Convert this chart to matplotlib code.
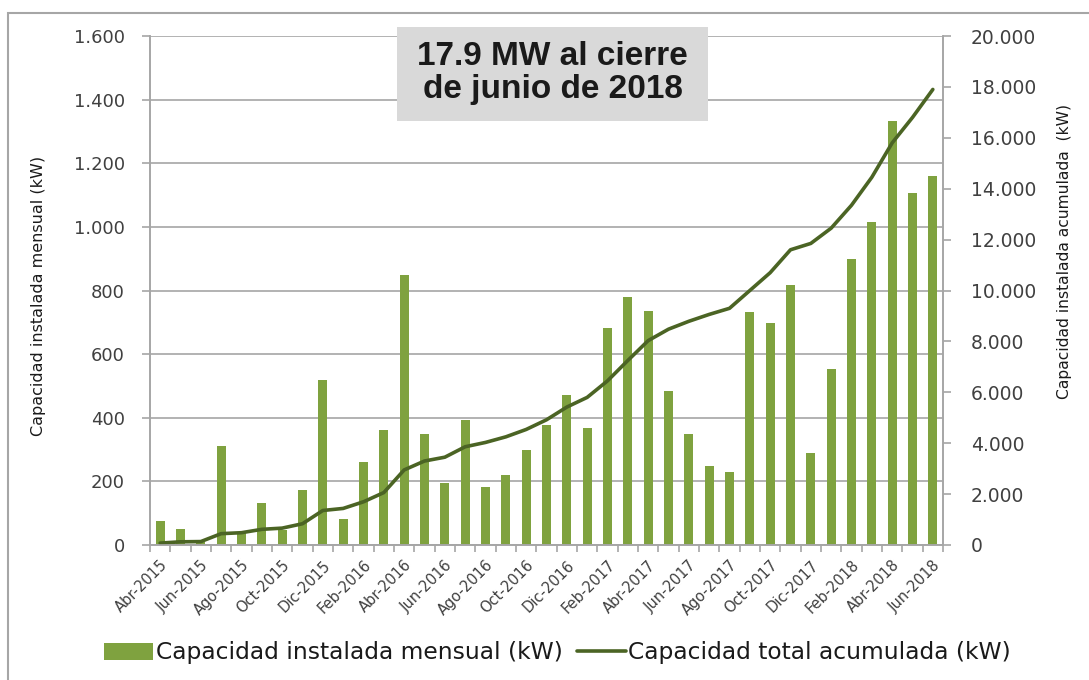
import numpy as np
import matplotlib
matplotlib.use('Agg')
import matplotlib.pyplot as plt
from matplotlib.patches import Rectangle
from matplotlib.ticker import FuncFormatter

# ============================================================
# Data
# ============================================================
meses = ['Abr-2015', 'May-2015', 'Jun-2015', 'Jul-2015', 'Ago-2015', 'Sep-2015',
         'Oct-2015', 'Nov-2015', 'Dic-2015', 'Ene-2016', 'Feb-2016', 'Mar-2016',
         'Abr-2016', 'May-2016', 'Jun-2016', 'Jul-2016', 'Ago-2016', 'Sep-2016',
         'Oct-2016', 'Nov-2016', 'Dic-2016', 'Ene-2017', 'Feb-2017', 'Mar-2017',
         'Abr-2017', 'May-2017', 'Jun-2017', 'Jul-2017', 'Ago-2017', 'Sep-2017',
         'Oct-2017', 'Nov-2017', 'Dic-2017', 'Ene-2018', 'Feb-2018', 'Mar-2018',
         'Abr-2018', 'May-2018', 'Jun-2018']

mensual = [75, 50, 10, 311, 37, 133, 47, 173, 520, 81, 261, 363,
           848, 348, 194, 393, 183, 219, 298, 377, 473, 367, 683, 779,
           735, 484, 348, 249, 230, 731, 698, 818, 288, 552, 899, 1015,
           1332, 1106, 1159]

acumulada = [75, 125, 135, 446, 483, 616, 663, 836, 1356, 1437, 1698, 2061,
             2950, 3300, 3450, 3860, 4030, 4250, 4540, 4920, 5420, 5800, 6450, 7250,
             8030, 8480, 8790, 9060, 9300, 10000, 10700, 11600, 11850, 12450, 13350, 14450,
             15800, 16800, 17900]

titulo = '17.9 MW al cierre\nde junio de 2018'

BAR_COLOR  = '#7FA23F'
LINE_COLOR = '#4B6424'
GRID_COLOR = '#A6A6A6'
TEXT_COLOR = '#404040'

# ============================================================
# Figure
# ============================================================
fig = plt.figure(figsize=(10.89, 6.8), dpi=100)
ax = fig.add_axes([150/1089, 1 - 545/680, (943 - 150)/1089, (545 - 36)/680])
ax2 = ax.twinx()

x = np.arange(len(meses))
ax.bar(x, mensual, width=0.45, color=BAR_COLOR, zorder=2,
       label='Capacidad instalada mensual (kW)')
ax2.plot(x, acumulada, color=LINE_COLOR, linewidth=2.6, solid_capstyle='round',
         label='Capacidad total acumulada (kW)')

ax.set_xlim(-0.5, len(meses) - 0.5)
ax.set_ylim(0, 1600)
ax2.set_ylim(0, 20000)
ax.set_yticks(np.arange(0, 1601, 200))
ax2.set_yticks(np.arange(0, 20001, 2000))

fmt = FuncFormatter(lambda v, p: f'{int(v):,}'.replace(',', '.'))
ax.yaxis.set_major_formatter(fmt)
ax2.yaxis.set_major_formatter(fmt)

ax.yaxis.grid(True, color=GRID_COLOR, linewidth=1.2, zorder=0)
ax.set_axisbelow(True)

# category boundary ticks + labels every other month
ax.set_xticks(np.arange(-0.5, len(meses), 1.0))
ax.set_xticklabels([])
ax.set_xticks(x[::2], minor=True)
ax.set_xticklabels(meses[::2], minor=True, rotation=45, ha='right',
                   rotation_mode='anchor', fontsize=10.5, color=TEXT_COLOR)
ax.tick_params(axis='x', which='minor', length=0, pad=9)
ax.tick_params(axis='x', which='major', length=5, color=GRID_COLOR, width=1.2)

for a in (ax, ax2):
    for s in a.spines.values():
        s.set_color(GRID_COLOR)
        s.set_linewidth(1.2)
    a.spines['top'].set_visible(False)
ax.tick_params(axis='y', length=6, color=GRID_COLOR, width=1.2,
               labelsize=13, labelcolor=TEXT_COLOR, pad=12)
ax2.tick_params(axis='y', length=6, color=GRID_COLOR, width=1.2,
                labelsize=13.5, labelcolor=TEXT_COLOR, pad=14)

ax.set_ylabel('Capacidad instalada mensual (kW)', fontsize=11.5, color='#1a1a1a')
ax.yaxis.set_label_coords(-0.131, 0.49)
ax2.set_ylabel('Capacidad instalada acumulada  (kW)', fontsize=11.2, color='#1a1a1a',
               rotation=90)
ax2.yaxis.set_label_coords(1.144, 0.576)

# title box
fig.patches.append(Rectangle((397/1089, 1 - 121/680), (708 - 397)/1089, (121 - 27)/680,
                             transform=fig.transFigure, facecolor='#D9D9D9',
                             edgecolor='none', zorder=5))
fig.text((397 + 708)/2/1089, 1 - 73/680, titulo, ha='center', va='center',
         fontsize=24, fontweight='bold', color='#1a1a1a',
         family='Liberation Sans', linespacing=1.1, zorder=6)

# outer frame (only top and left edges fall inside the picture)
fig.patches.append(Rectangle((8/1089, -0.05), 1.1, 1 - 13/680 + 0.05,
                             transform=fig.transFigure, facecolor='none',
                             edgecolor='#A6A6A6', linewidth=1.5, zorder=0))

h1, l1 = ax.get_legend_handles_labels()
h2, l2 = ax2.get_legend_handles_labels()
fig.legend(h1 + h2, l1 + l2, loc='center', bbox_to_anchor=(0.512, 1 - 653/680),
           ncol=2, frameon=False, fontsize=16.8, handlelength=2.1,
           handletextpad=0.1, columnspacing=0.6, labelcolor='#1a1a1a')

fig.savefig('out.png', dpi=100)
